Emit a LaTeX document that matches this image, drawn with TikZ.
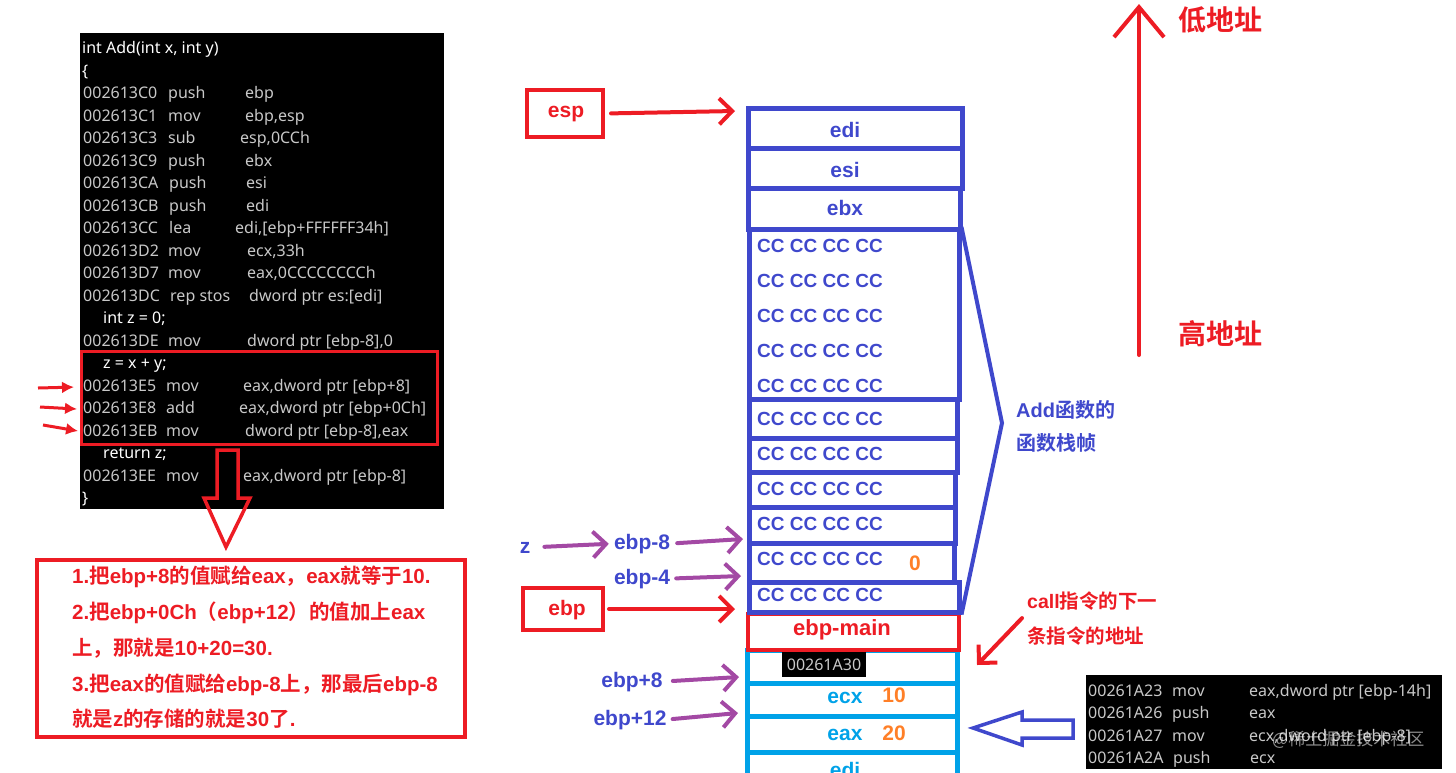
\documentclass[tikz,border=0pt]{standalone}
\usepackage{fontspec}
\setmainfont{Noto Sans}
\newfontfamily\lblfam{Liberation Sans}
\newfontfamily\cjkfam{Noto Sans CJK SC}[BoldFont={Noto Sans CJK SC Bold}]
\usetikzlibrary{arrows.meta}
\definecolor{pred}{RGB}{237,28,36}
\definecolor{pblue}{RGB}{63,72,204}
\definecolor{pturq}{RGB}{0,162,232}
\definecolor{ppurple}{RGB}{163,73,164}
\definecolor{porange}{RGB}{255,127,39}
\definecolor{codegray}{RGB}{200,200,200}
\newcommand\cj[1]{{\cjkfam #1}}
\newcommand\codefont{\fontsize{16}{18}\selectfont}
\newcommand\lblfont{\lblfam\bfseries\fontsize{21}{24}\selectfont}
\newcommand\ccfont{\lblfam\bfseries\fontsize{19}{22}\selectfont}
\newcommand\asm[5]{\makebox[#1pt][l]{#3}\makebox[#2pt][l]{#4}#5}
\tikzset{
  codeline/.style={anchor=base west, inner sep=0pt, font=\codefont, text=codegray},
  srcline/.style={codeline, text=white},
  lbl/.style={anchor=base, inner sep=0pt, font=\lblfont},
  lblw/.style={anchor=base west, inner sep=0pt, font=\lblfont},
  blackbox/.style={fill=black, anchor=north west, inner sep=0pt},
  sbox/.style={draw=pblue, line width=4.5pt, anchor=north west, inner sep=0pt},
  tbox/.style={draw=pturq, line width=4.5pt, anchor=north west, inner sep=0pt},
  rbox/.style={draw=pred, line width=4pt, anchor=north west, inner sep=0pt},
  cctext/.style={anchor=base west, inner sep=0pt, font=\ccfont, text=pblue},
  rarrow/.style={draw=pred, line width=4pt, line cap=round, -{Straight Barb[length=13pt,width=26pt]}},
  parrow/.style={draw=ppurple, line width=4pt, line cap=round, -{Straight Barb[length=13pt,width=26pt]}},
  codearrow/.style={draw=pred, line width=3pt, -{Latex[length=12pt,width=12pt]}},
}
\begin{document}
\begin{tikzpicture}[x=1pt,y=-1pt]
\useasboundingbox (0,0) rectangle (1456,772);

% ---------- top-left code listing ----------
\node[blackbox, minimum width=364pt, minimum height=476pt] (code) at (80,33) {};
\node[srcline] (l0) at (82,53.5) {int Add(int x, int y)};
\node[srcline] (l1) at (82,76) {\{};
\node[codeline] (l2) at (83,98.5) {\asm{85}{77}{002613C0}{push}{ebp}};
\node[codeline] (l3) at (83,121) {\asm{85}{77}{002613C1}{mov}{ebp,esp}};
\node[codeline] (l4) at (83,143.5) {\asm{85}{72}{002613C3}{sub}{esp,0CCh}};
\node[codeline] (l5) at (83,166) {\asm{85}{77}{002613C9}{push}{ebx}};
\node[codeline] (l6) at (83,188.5) {\asm{86}{77}{002613CA}{push}{esi}};
\node[codeline] (l7) at (83,211) {\asm{86}{77}{002613CB}{push}{edi}};
\node[codeline] (l8) at (83,233.5) {\asm{86}{66}{002613CC}{lea}{edi,[ebp+FFFFFF34h]}};
\node[codeline] (l9) at (83,256) {\asm{85}{79}{002613D2}{mov}{ecx,33h}};
\node[codeline] (l10) at (83,278.5) {\asm{85}{79}{002613D7}{mov}{eax,0CCCCCCCCh}};
\node[codeline] (l11) at (83,301) {\asm{87}{79}{002613DC}{rep stos}{dword ptr es:[edi]}};
\node[srcline] (l12) at (103,323.5) {int z = 0;};
\node[codeline] (l13) at (83,346) {\asm{85}{79}{002613DE}{mov}{dword ptr [ebp-8],0}};
\node[srcline] (l14) at (103,368.5) {z = x + y;};
\node[codeline] (l15) at (83,391) {\asm{83}{77}{002613E5}{mov}{eax,dword ptr [ebp+8]}};
\node[codeline] (l16) at (83,413.5) {\asm{83}{73}{002613E8}{add}{eax,dword ptr [ebp+0Ch]}};
\node[codeline] (l17) at (83,436) {\asm{83}{79}{002613EB}{mov}{dword ptr [ebp-8],eax}};
\node[srcline] (l18) at (103,458.5) {return z;};
\node[codeline] (l19) at (83,481) {\asm{83}{77}{002613EE}{mov}{eax,dword ptr [ebp-8]}};
\node[srcline] (l20) at (82,503.5) {\}};

% highlight box
\node[draw=pred, line width=3pt, anchor=north west, inner sep=0pt, minimum width=356pt, minimum height=93pt] (hl) at (80,350) {};

% small red arrows
\coordinate (a1) at (38,388);
\coordinate (a2) at (40,407);
\coordinate (a3) at (43,425);
\draw[codearrow, shorten >=9pt] (a1) -- (l15.west);
\draw[codearrow, shorten >=6pt] (a2) -- (l16.west);
\draw[codearrow, shorten >=5pt] (a3) -- (l17.west);

% hollow down arrow
\draw[pred, line width=3.5pt, line join=miter]
  (217,450) -- (238,450) -- (238,498) -- (250,498) -- (226,547) -- (204,498) -- (217,498) -- cycle;

% explanation box
\node[draw=pred, line width=3.5pt, anchor=north west, inner sep=0pt, minimum width=428pt, minimum height=177pt] (expl) at (35,558) {};
\begin{scope}[every node/.style={anchor=base west, inner sep=0pt, text=pred, font=\lblfam\bfseries\fontsize{20.5}{24}\selectfont}]
\node (e1) at (72,583) {1.\cj{把}ebp+8\cj{的值赋给}eax\cj{，}eax\cj{就等于}10.};
\node (e2) at (72,619) {2.\cj{把}ebp+0Ch\cj{（}ebp+12\cj{）的值加上}eax};
\node (e3) at (72,655) {\cj{上，那就是}10+20=30.};
\node (e4) at (72,691) {3.\cj{把}eax\cj{的值赋给}ebp-8\cj{上，那最后}ebp-8};
\node (e5) at (72,726) {\cj{就是}z\cj{的存储的就是}30\cj{了}.};
\end{scope}

% ---------- stack ----------
\node[tbox, minimum width=210pt, minimum height=33pt] (ret) at (745,648) {};
\node[tbox, minimum width=210pt, minimum height=33pt] (ecxb) at (745,681) {};
\node[tbox, minimum width=210pt, minimum height=36pt] (eaxb) at (745,714) {};
\node[tbox, minimum width=210pt, minimum height=40pt] (edib) at (745,750) {};
\node[rbox, minimum width=211pt, minimum height=36pt] (ebpmain) at (746,612) {};

\node[sbox, minimum width=214pt, minimum height=40pt] (edi) at (746,106) {};
\node[sbox, minimum width=214pt, minimum height=40pt] (esi) at (746,146) {};
\node[sbox, minimum width=212pt, minimum height=41pt] (ebx) at (746,186) {};
\node[sbox, minimum width=210pt, minimum height=170pt] (cc1) at (747,227) {};
\node[sbox, minimum width=208pt, minimum height=39pt] (cc2) at (747,397) {};
\node[sbox, minimum width=208pt, minimum height=34pt] (cc3) at (747,436) {};
\node[sbox, minimum width=206pt, minimum height=35pt] (cc4) at (747,470) {};
\node[sbox, minimum width=206pt, minimum height=36pt] (cc5) at (747,505) {};
\node[sbox, minimum width=205pt, minimum height=39pt] (cc6) at (747,541) {};
\node[sbox, minimum width=210pt, minimum height=30pt] (cc7) at (747,580) {};

\node[lbl, text=pblue] (tedi) at (845,137) {edi};
\node[lbl, text=pblue] (tesi) at (845,177) {esi};
\node[lbl, text=pblue] (tebx) at (845,215) {ebx};
\node[cctext] (r1) at (757,252) {CC CC CC CC};
\node[cctext] (r2) at (757,287) {CC CC CC CC};
\node[cctext] (r3) at (757,322) {CC CC CC CC};
\node[cctext] (r4) at (757,357) {CC CC CC CC};
\node[cctext] (r5) at (757,392) {CC CC CC CC};
\node[cctext] (r6) at (757,425) {CC CC CC CC};
\node[cctext] (r7) at (757,460) {CC CC CC CC};
\node[cctext] (r8) at (757,495) {CC CC CC CC};
\node[cctext] (r9) at (757,530) {CC CC CC CC};
\node[cctext] (r10) at (757,565) {CC CC CC CC};
\node[cctext] (r11) at (757,601) {CC CC CC CC};
\node[lbl, text=porange] (zero) at (915,570) {0};
\node[lbl, text=pred, font=\lblfam\bfseries\fontsize{22}{24}\selectfont] (tebpmain) at (842,635) {ebp-main};
\node[fill=black, inner sep=0pt, minimum width=84pt, minimum height=25pt, font=\codefont, text=codegray] (retaddr) at (824,664.5) {00261A30};
\node[lbl, text=pturq] (tecx) at (845,703) {ecx};
\node[lbl, text=porange] (ten) at (894,702) {10};
\node[lbl, text=pturq] (teax) at (845,740) {eax};
\node[lbl, text=porange] (ttw) at (894,740) {20};
\node[lbl, text=pturq] (tedi2) at (845,777) {edi};

% brace-like frame marker
\coordinate (apex) at (1002,423);
\draw[pblue, line width=4pt, line join=miter] (cc1.north east) -- (apex) -- (cc7.south east);
\node[lblw, text=pblue, font=\lblfam\bfseries\fontsize{20}{24}\selectfont] (fr1) at (1016,417) {Add\cj{函数的}};
\node[lblw, text=pblue, font=\lblfam\bfseries\fontsize{20}{24}\selectfont] (fr2) at (1016,450) {\cj{函数栈帧}};

% ---------- pointers ----------
\node[draw=pred, line width=4pt, inner sep=0pt, minimum width=76pt, minimum height=47pt] (espbox) at (565,113.5) {};
\node[lbl, text=pred] (tesp) at (566,117) {esp};
\coordinate (espTip) at (735,111);
\draw[rarrow, shorten <=6pt] (espbox.east) -- (espTip);

\node[draw=pred, line width=4pt, inner sep=0pt, minimum width=80pt, minimum height=42pt] (ebpbox) at (563,609) {};
\node[lbl, text=pred] (tebp) at (567,615) {ebp};
\coordinate (ebpTip) at (735,609);
\draw[rarrow, shorten <=4pt] (ebpbox.east) -- (ebpTip);

\node[lbl, text=pblue] (z) at (525,553) {z};
\node[lbl, text=pblue] (m8) at (642,549) {ebp-8};
\node[lbl, text=pblue] (m4) at (642,584) {ebp-4};
\node[lbl, text=pblue] (p8) at (632,687) {ebp+8};
\node[lbl, text=pblue] (p12) at (630,725) {ebp+12};
\coordinate (m8Tip) at (743,539);
\coordinate (m4Tip) at (741,576);
\coordinate (p8Tip) at (739,677);
\coordinate (p12Tip) at (738,713);
\draw[parrow, shorten <=14pt, shorten >=5pt] (z.east) -- (m8.west);
\draw[parrow, shorten <=7pt] (m8.east) -- (m8Tip);
\draw[parrow, shorten <=6pt] (m4.east) -- (m4Tip);
\draw[parrow, shorten <=10pt] (p8.east) -- (p8Tip);
\draw[parrow, shorten <=6pt] (p12.east) -- (p12Tip);

% call label
\node[lblw, text=pred, font=\lblfam\bfseries\fontsize{19.5}{22}\selectfont] (call1) at (1027,608) {call\cj{指令的下一}};
\node[lblw, text=pred, font=\lblfam\bfseries\fontsize{19.5}{22}\selectfont] (call2) at (1027,643) {\cj{条指令的地址}};
\coordinate (callTip) at (977,665);
\draw[rarrow] ([shift={(-5,8)}]call1.south west) -- (callTip);

% ---------- caller code ----------
\node[blackbox, minimum width=356pt, minimum height=94pt] (code2) at (1086,675) {};
\node[codeline] (k1) at (1088,696) {\asm{84}{77}{00261A23}{mov}{eax,dword ptr [ebp-14h]}};
\node[codeline] (k2) at (1088,718.5) {\asm{84}{77}{00261A26}{push}{eax}};
\node[codeline] (k3) at (1088,741) {\asm{84}{77}{00261A27}{mov}{ecx,dword ptr [ebp-8]}};
\node[codeline] (k4) at (1088,763.5) {\asm{85}{77}{00261A2A}{push}{ecx}};
\node[anchor=base west, inner sep=0pt, text=white, opacity=0.55, font=\cjkfam\fontsize{17}{20}\selectfont] (wm) at (1272,745) {@稀土掘金技术社区};

% hollow left arrow
\draw[pblue, line width=3.5pt, line join=miter]
  (1073,720) -- (1022,720) -- (1022,712) -- (973,728) -- (1022,745) -- (1022,738) -- (1073,738) -- cycle;

% ---------- address direction ----------
\coordinate (hiAddr) at (1139,355);
\coordinate (loAddr) at (1139,4);
\draw[pred, line width=4pt, line cap=round, -{Straight Barb[length=30pt,width=50pt]}] (hiAddr) -- (loAddr);
\node[anchor=base west, inner sep=0pt, text=pred, font=\cjkfam\bfseries\fontsize{28}{32}\selectfont] (lo) at (1178,30) {低地址};
\node[anchor=base west, inner sep=0pt, text=pred, font=\cjkfam\bfseries\fontsize{28}{32}\selectfont] (hi) at (1178,344) {高地址};
\end{tikzpicture}
\end{document}
